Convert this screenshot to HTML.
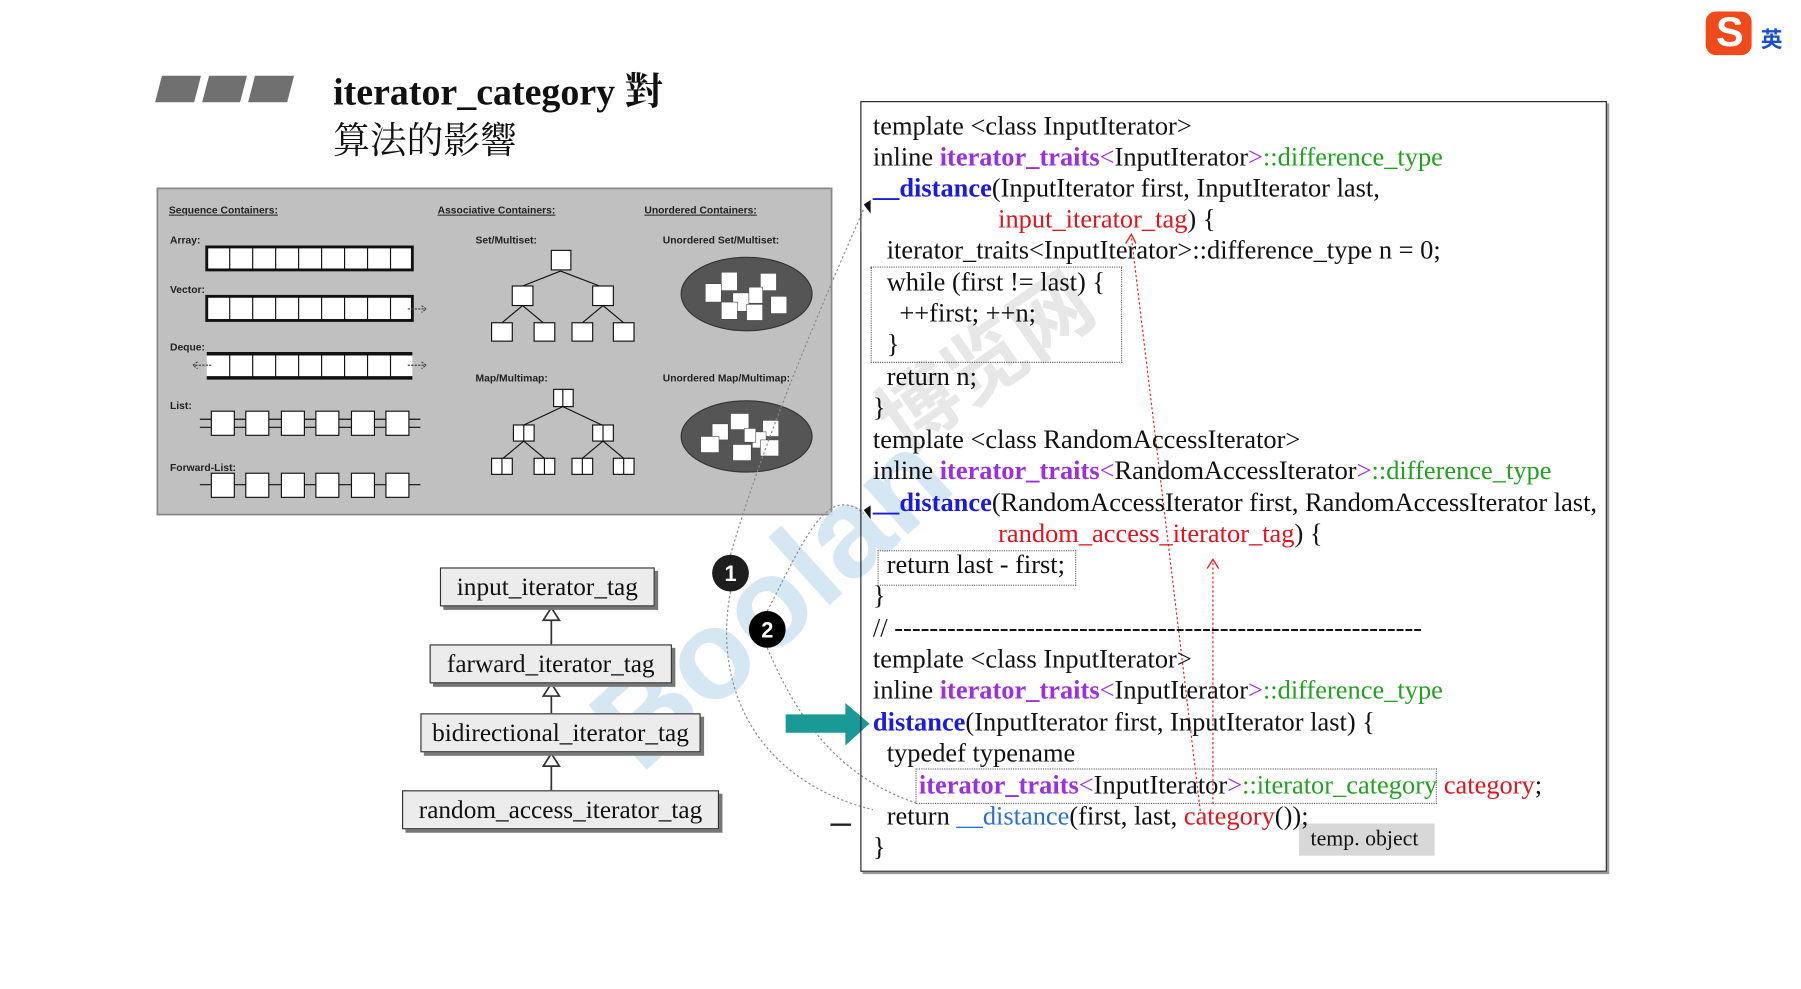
<!DOCTYPE html>
<html><head><meta charset="utf-8"><style>
html,body{margin:0;padding:0;background:#fff;width:1801px;height:989px;overflow:hidden}
#s{position:absolute;left:0;top:0;width:1568px;height:861px;transform:scale(1.1486);transform-origin:0 0;font-family:"Liberation Serif","Noto Serif CJK SC",serif}
.l{position:absolute;font-size:23px;line-height:26px;white-space:pre;color:#111}
.p{color:#9b30e0;font-weight:bold}.pp{color:#9b30e0}.g{color:#22a022}.b{color:#1a1ae0;font-weight:bold}.r{color:#e0141e}.bl{color:#2a6fd6}
.tag{position:absolute;background:#ececec;border:1.5px solid #333;box-shadow:3px 3px 0 #777;font-size:22px;line-height:32px;text-align:center;color:#111;white-space:nowrap}
.db{position:absolute;border:1px dotted #666}
.sf{font-family:"Liberation Sans",sans-serif}
</style></head><body><div id="s">

<div style="position:absolute;left:1485px;top:10px;width:40px;height:38px;border-radius:9px;background:#f04a1a"></div>
<div class="sf" style="position:absolute;left:1494px;top:7px;font-size:36px;font-weight:bold;color:#fff">S</div>
<div style="position:absolute;left:1533px;top:20px;font-size:19px;font-weight:bold;color:#1a4fd0;font-family:'Noto Sans CJK SC',sans-serif">英</div>

<svg style="position:absolute;left:0;top:0" width="300" height="100">
<polygon points="141,66 175,66 169,89 135,89" fill="#707070"/>
<polygon points="182,66 215,66 209,89 176,89" fill="#707070"/>
<polygon points="222,66 256,66 250,89 216,89" fill="#707070"/>
</svg>
<div style="position:absolute;left:290px;top:58px;font-size:33px;font-weight:bold;line-height:40px;color:#111">iterator_category <span style="font-family:'Noto Serif CJK SC',serif">對</span></div>
<div style="position:absolute;left:290px;top:100px;font-size:32px;line-height:40px;color:#111;font-family:'Noto Serif CJK SC',serif">算法的影響</div>

<svg style="position:absolute;left:0;top:0" width="740" height="460" font-family="Liberation Sans,sans-serif" font-size="9" font-weight="bold">
<rect x="137" y="164" width="587" height="284" fill="#c0c0c0" stroke="#888" stroke-width="1.5"/>
<g fill="#222" text-decoration="underline">
<text x="147" y="186">Sequence Containers:</text><text x="381" y="186">Associative Containers:</text><text x="561" y="186">Unordered Containers:</text></g>
<g fill="#222">
<text x="148" y="212">Array:</text><text x="148" y="255">Vector:</text><text x="148" y="305">Deque:</text><text x="148" y="356">List:</text><text x="148" y="410">Forward-List:</text>
<text x="414" y="212">Set/Multiset:</text><text x="577" y="212">Unordered Set/Multiset:</text><text x="414" y="332">Map/Multimap:</text><text x="577" y="332">Unordered Map/Multimap:</text></g>
<g fill="#fff" stroke="#111">
<rect x="180" y="215" width="179" height="20" stroke-width="2.5"/>
<rect x="180" y="258" width="179" height="21" stroke-width="2.5"/>
<rect x="180" y="309" width="179" height="19" stroke-width="0"/>
</g>
<line x1="180" y1="308" x2="359" y2="308" stroke="#111" stroke-width="3"/>
<line x1="180" y1="329" x2="359" y2="329" stroke="#111" stroke-width="3"/>
<g stroke="#111" stroke-width="1">
<path d="M200 215v20M220 215v20M240 215v20M260 215v20M280 215v20M300 215v20M320 215v20M340 215v20"/>
<path d="M200 258v21M220 258v21M240 258v21M260 258v21M280 258v21M300 258v21M320 258v21M340 258v21"/>
<path d="M200 309v19M220 309v19M240 309v19M260 309v19M280 309v19M300 309v19M320 309v19M340 309v19"/>
</g>
<g stroke="#444" fill="none" stroke-dasharray="2,1"><path d="M355 269h16M367 266l4 3-4 3M355 318h16M367 315l4 3-4 3M184 318h-16M172 315l-4 3 4 3"/></g>
<g fill="#fff" stroke="#111">
<rect x="184" y="358" width="20" height="21"/><rect x="214" y="358" width="20" height="21"/><rect x="245" y="358" width="20" height="21"/><rect x="275" y="358" width="20" height="21"/><rect x="306" y="358" width="20" height="21"/><rect x="336" y="358" width="20" height="21"/>
<rect x="184" y="412" width="20" height="21"/><rect x="214" y="412" width="20" height="21"/><rect x="245" y="412" width="20" height="21"/><rect x="275" y="412" width="20" height="21"/><rect x="306" y="412" width="20" height="21"/><rect x="336" y="412" width="20" height="21"/>
</g>
<g stroke="#111" fill="none"><path d="M174 365h10M204 365h10M234 365h11M265 365h10M295 365h11M326 365h10M356 365h10M174 372h10M204 372h10M234 372h11M265 372h10M295 372h11M326 372h10M356 372h10"/>
<path d="M174 422h10M204 422h10M234 422h11M265 422h10M295 422h11M326 422h10M356 422h10"/></g>
<g stroke="#111"><path d="M488 236l-33 13M488 236l34 13M455 266l-18 15M455 266l18 15M525 266l-18 15M525 266l18 15"/>
<path d="M490 354l-34 16M490 354l34 16M456 384l-18 15M456 384l18 15M525 384l-18 15M525 384l18 15"/></g>
<g fill="#fff" stroke="#111">
<rect x="480" y="218" width="17" height="17"/><rect x="446" y="249" width="18" height="17"/><rect x="516" y="249" width="18" height="17"/>
<rect x="428" y="281" width="18" height="16"/><rect x="465" y="281" width="18" height="16"/><rect x="498" y="281" width="18" height="16"/><rect x="534" y="281" width="18" height="16"/>
<rect x="482" y="339" width="17" height="15"/><rect x="447" y="370" width="18" height="14"/><rect x="516" y="370" width="18" height="14"/>
<rect x="428" y="399" width="18" height="14"/><rect x="465" y="399" width="18" height="14"/><rect x="498" y="399" width="18" height="14"/><rect x="534" y="399" width="18" height="14"/>
</g>
<g stroke="#111"><path d="M490 339v15M456 370v14M525 370v14M437 399v14M474 399v14M507 399v14M543 399v14"/></g>
<ellipse cx="650" cy="256" rx="57" ry="32" fill="#555" stroke="#333"/>
<ellipse cx="650" cy="380" rx="57" ry="31" fill="#555" stroke="#333"/>
<g fill="#fff" stroke="#444" stroke-width="0.5">
<rect x="614" y="247" width="14" height="16"/><rect x="628" y="237" width="14" height="16"/><rect x="662" y="238" width="14" height="15"/><rect x="638" y="255" width="14" height="16"/><rect x="652" y="250" width="12" height="14"/><rect x="628" y="263" width="14" height="15"/><rect x="650" y="265" width="14" height="14"/><rect x="671" y="258" width="14" height="15"/>
<rect x="620" y="369" width="14" height="14"/><rect x="636" y="360" width="16" height="14"/><rect x="664" y="366" width="14" height="14"/><rect x="655" y="376" width="12" height="14"/><rect x="610" y="380" width="16" height="14"/><rect x="638" y="387" width="16" height="14"/><rect x="662" y="383" width="16" height="14"/><rect x="648" y="373" width="10" height="12"/>
</g>
</svg>

<div class="sf" style="position:absolute;left:490px;font-size:110px;font-weight:bold;color:#cfe3f3;transform:rotate(-42deg);transform-origin:0 0;opacity:.85;top:600px">Boolan</div>
<div style="position:absolute;left:740px;top:330px;font-size:70px;font-weight:bold;color:#e2e2e2;transform:rotate(-35deg);transform-origin:0 0;font-family:'Noto Sans CJK SC',sans-serif;opacity:.8">博览网</div>

<svg style="position:absolute;left:0;top:0" width="700" height="760">
<g stroke="#333" stroke-width="1.5" fill="#fff">
<line x1="480" y1="540" x2="480" y2="561"/><polygon points="480,529 473,540 487,540"/>
<line x1="480" y1="606" x2="480" y2="621"/><polygon points="480,595 473,606 487,606"/>
<line x1="480" y1="667" x2="480" y2="688"/><polygon points="480,656 473,667 487,667"/>
</g></svg>
<div class="tag" style="left:383px;top:494px;width:185px">input_iterator_tag</div>
<div class="tag" style="left:374px;top:561px;width:209px">farward_iterator_tag</div>
<div class="tag" style="left:366px;top:621px;width:242px">bidirectional_iterator_tag</div>
<div class="tag" style="left:350px;top:688px;width:274px">random_access_iterator_tag</div>

<svg style="position:absolute;left:0;top:0" width="1568" height="861">
<g fill="none" stroke="#888" stroke-width="1" stroke-dasharray="2,2">
<path d="M636 515 C620 600 660 680 760 705"/>
<path d="M668 532 C700 470 720 420 752 447"/>
<path d="M636 483 C660 400 700 300 752 182"/>
<path d="M668 564 C700 640 740 680 800 700"/>
</g>
<polygon points="752,178 758,174 758,186" fill="#111"/>
<polygon points="752,444 758,440 758,452" fill="#111"/>
<g fill="none" stroke="#e02020" stroke-width="1" stroke-dasharray="2,2">
<path d="M1045 706 L985 206"/><path d="M1056 700 L1056 488"/>
</g>
<g fill="none" stroke="#e02020" stroke-width="1.2"><path d="M980 212l5-8 4 8M1051 495l5-8 5 8"/></g>
<circle cx="636" cy="499" r="16" fill="#1e1e1e"/><circle cx="668" cy="548" r="16" fill="#000"/>
<text x="636" y="506" fill="#fff" font-size="19" font-weight="bold" text-anchor="middle" font-family="Liberation Sans,sans-serif">1</text>
<text x="668" y="555" fill="#fff" font-size="19" font-weight="bold" text-anchor="middle" font-family="Liberation Sans,sans-serif">2</text>
<polygon points="684,622 736,622 736,612 757,630 736,649 736,638 684,638" fill="#1a9a96"/>
<line x1="723" y1="718" x2="741" y2="718" stroke="#222" stroke-width="2"/>
</svg>

<div style="position:absolute;left:749px;top:88px;width:648px;height:669px;border:1.5px solid #222;box-shadow:2px 2px 0 #999"></div>
<div class="db" style="left:758px;top:232px;width:217px;height:82px"></div>
<div class="db" style="left:764px;top:479px;width:171px;height:29px"></div>
<div class="db" style="left:797px;top:669px;width:452px;height:29px"></div>
<div style="position:absolute;left:1131px;top:717px;width:118px;height:28px;background:#d8d8d8"></div>
<div class="l" style="left:1141px;top:718px;font-size:19px">temp. object</div>

<div class="l" style="left:760px;top:97px">template &lt;class InputIterator&gt;</div>
<div class="l" style="left:760px;top:124px">inline <span class="p">iterator_traits</span><span class="pp">&lt;</span>InputIterator<span class="pp">&gt;</span><span class="g">::difference_type</span></div>
<div class="l" style="left:760px;top:151px"><span class="b">__distance</span>(InputIterator first, InputIterator last,</div>
<div class="l" style="left:869px;top:178px"><span class="r">input_iterator_tag</span>) {</div>
<div class="l" style="left:772px;top:205px">iterator_traits&lt;InputIterator&gt;::difference_type n = 0;</div>
<div class="l" style="left:772px;top:233px">while (first != last) {</div>
<div class="l" style="left:783px;top:260px">++first; ++n;</div>
<div class="l" style="left:772px;top:287px">}</div>
<div class="l" style="left:772px;top:315px">return n;</div>
<div class="l" style="left:760px;top:342px">}</div>
<div class="l" style="left:760px;top:370px">template &lt;class RandomAccessIterator&gt;</div>
<div class="l" style="left:760px;top:397px">inline <span class="p">iterator_traits</span><span class="pp">&lt;</span>RandomAccessIterator<span class="pp">&gt;</span><span class="g">::difference_type</span></div>
<div class="l" style="left:760px;top:425px"><span class="b">__distance</span>(RandomAccessIterator first, RandomAccessIterator last,</div>
<div class="l" style="left:869px;top:452px"><span class="r">random_access_iterator_tag</span>) {</div>
<div class="l" style="left:772px;top:479px">return last - first;</div>
<div class="l" style="left:760px;top:506px">}</div>
<div class="l" style="left:760px;top:534px">// ------------------------------------------------------------</div>
<div class="l" style="left:760px;top:561px">template &lt;class InputIterator&gt;</div>
<div class="l" style="left:760px;top:588px">inline <span class="p">iterator_traits</span><span class="pp">&lt;</span>InputIterator<span class="pp">&gt;</span><span class="g">::difference_type</span></div>
<div class="l" style="left:760px;top:616px"><span class="b">distance</span>(InputIterator first, InputIterator last) {</div>
<div class="l" style="left:772px;top:643px">typedef typename</div>
<div class="l" style="left:800px;top:671px"><span class="p">iterator_traits</span><span class="pp">&lt;</span>InputIterator<span class="pp">&gt;</span><span class="g">::iterator_category</span> <span class="r">category</span>;</div>
<div class="l" style="left:772px;top:698px">return <span class="bl">__distance</span>(first, last, <span class="r">category</span>());</div>
<div class="l" style="left:760px;top:725px">}</div>

</div></body></html>
